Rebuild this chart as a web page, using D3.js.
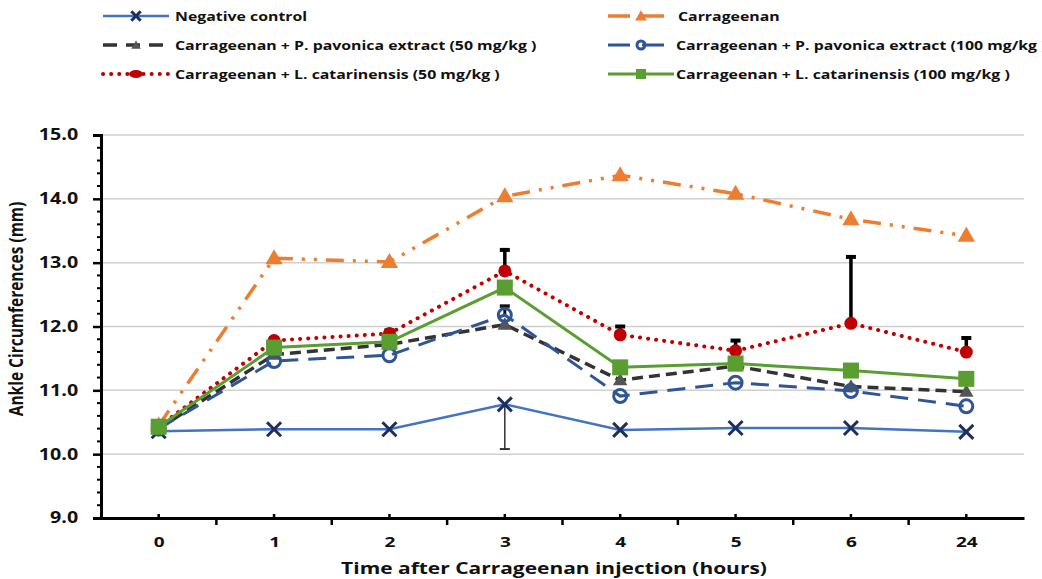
<!DOCTYPE html>
<html>
<head>
<meta charset="utf-8">
<script src="https://cdn.jsdelivr.net/npm/d3@7"></script>
<style>
  body { margin: 0; background: #fff; }
  text { font-family: "Open Sans", "Liberation Sans", sans-serif; font-weight: bold; }
</style>
</head>
<body>
<div id="chart"></div>
<script>
// data
var hours = ["0", "1", "2", "3", "4", "5", "6", "24"];
var yTicks = [9, 10, 11, 12, 13, 14, 15];

var negControl = [10.36, 10.39, 10.39, 10.78, 10.38, 10.41, 10.41, 10.35];
var carrageenan = [10.45, 13.07, 13.01, 14.04, 14.37, 14.08, 13.68, 13.42];
var pav50 = [10.40, 11.56, 11.72, 12.03, 11.16, 11.38, 11.06, 10.98];
var pav100 = [10.40, 11.46, 11.55, 12.18, 10.91, 11.12, 10.99, 10.75];
var lcat50 = [10.43, 11.78, 11.89, 12.87, 11.87, 11.62, 12.05, 11.60];
var lcat100 = [10.43, 11.67, 11.76, 12.61, 11.36, 11.42, 11.31, 11.18];

// error bars (only the visible half)
var negErrDown = [0, 0, 0, 0.70, 0, 0, 0, 0];
var pav100ErrUp = [0, 0, 0, 0.14, 0, 0, 0, 0];
var lcat50ErrUp = [0, 0.04, 0.05, 0.33, 0.13, 0.16, 1.04, 0.22];

var seriesNames = [
  "Negative control",
  "Carrageenan",
  "Carrageenan + P. pavonica extract (50 mg/kg )",
  "Carrageenan + P. pavonica extract (100 mg/kg )",
  "Carrageenan + L. catarinensis (50 mg/kg )",
  "Carrageenan + L. catarinensis (100 mg/kg )"
];

var svgWidth = 1042;
var svgHeight = 579;
var stretch = 1.27; // the original text is wide

var svg = d3.select("#chart")
  .append("svg")
  .attr("width", svgWidth)
  .attr("height", svgHeight);

var xScale = d3.scalePoint()
  .domain(hours)
  .range([101, 1024])
  .padding(0.5);

var yScale = d3.scaleLinear()
  .domain([9, 15])
  .range([518, 135]);

// gridlines
svg.append("g")
  .selectAll("line")
  .data(yTicks.slice(1))
  .enter()
  .append("line")
  .attr("x1", 101)
  .attr("x2", 1024)
  .attr("y1", d => yScale(d))
  .attr("y2", d => yScale(d))
  .attr("stroke", "#d0d0d0")
  .attr("stroke-width", 1.5);

// y axis with minor ticks
var leftAxis = d3.axisLeft(yScale)
  .tickValues(yTicks)
  .tickFormat(d3.format(".1f"))
  .tickSize(8)
  .tickPadding(10);

var yAxisG = svg.append("g")
  .attr("transform", "translate(101,0)")
  .call(leftAxis);
yAxisG.select(".domain").attr("stroke", "#000").attr("stroke-width", 3);
yAxisG.selectAll(".tick line").attr("stroke", "#000").attr("stroke-width", 2.5);
yAxisG.selectAll(".tick text")
  .attr("font-size", 15.5)
  .attr("fill", "#111")
  .attr("transform", `scale(${stretch},1)`);

var minorY = d3.range(9, 15.001, 0.2).filter(d => Math.abs(d - Math.round(d)) > 0.01);
svg.append("g")
  .selectAll("line")
  .data(minorY)
  .enter()
  .append("line")
  .attr("x1", 97)
  .attr("x2", 102)
  .attr("y1", d => yScale(d))
  .attr("y2", d => yScale(d))
  .attr("stroke", "#000")
  .attr("stroke-width", 2);

// x axis
var bottomAxis = d3.axisBottom(xScale)
  .tickSize(0)
  .tickPadding(18);

var xAxisG = svg.append("g")
  .attr("transform", "translate(0,518)")
  .call(bottomAxis);
xAxisG.select(".domain").attr("stroke", "#000").attr("stroke-width", 3);
xAxisG.selectAll(".tick text")
  .attr("font-size", 15)
  .attr("fill", "#111")
  .attr("transform", `scale(${stretch},1)`);

var step = xScale.step();
var boundaries = d3.range(hours.length + 1).map(i => 101 + i * step);
svg.append("g")
  .selectAll("line")
  .data(boundaries.slice(1, -1))
  .enter()
  .append("line")
  .attr("x1", d => d)
  .attr("x2", d => d)
  .attr("y1", 518)
  .attr("y2", 525)
  .attr("stroke", "#000")
  .attr("stroke-width", 2.5);

svg.append("g")
  .selectAll("line")
  .data(hours)
  .enter()
  .append("line")
  .attr("x1", d => xScale(d))
  .attr("x2", d => xScale(d))
  .attr("y1", 514)
  .attr("y2", 518)
  .attr("stroke", "#000")
  .attr("stroke-width", 2.5);

// axis titles
svg.append("text")
  .attr("transform", `translate(554,574) scale(${stretch},1)`)
  .attr("text-anchor", "middle")
  .attr("font-size", 16.5)
  .attr("fill", "#111")
  .text("Time after Carrageenan  injection (hours)");

svg.append("text")
  .attr("transform", `translate(23,309) rotate(-90) scale(1,${stretch})`)
  .attr("text-anchor", "middle")
  .attr("font-size", 15.5)
  .attr("fill", "#111")
  .text("Ankle Circumferences (mm)");

// marker drawing
var triangle = d3.symbol().type(d3.symbolTriangle);
var cross = d3.symbol().type(d3.symbolX);

function drawMarker(g, type, x, y, legend) {
  if (type === "x") {
    g.append("path")
      .attr("d", cross.size(legend ? 60 : 130)())
      .attr("transform", `translate(${x},${y})`)
      .attr("fill", "none")
      .attr("stroke", "#1f2f5c")
      .attr("stroke-width", 3);
  } else if (type === "tri") {
    g.append("path")
      .attr("d", triangle.size(legend ? 60 : 130)())
      .attr("transform", `translate(${x},${y + 1})`)
      .attr("fill", "#ed7d31");
  } else if (type === "triGray") {
    g.append("path")
      .attr("d", triangle.size(legend ? 40 : 90)())
      .attr("transform", `translate(${x},${y + 1})`)
      .attr("fill", "#555");
  } else if (type === "openCircle") {
    g.append("circle")
      .attr("cx", x).attr("cy", y).attr("r", legend ? 4 : 6.5)
      .attr("fill", "none")
      .attr("stroke", "#2f5597")
      .attr("stroke-width", 3);
  } else if (type === "dot") {
    g.append("ellipse")
      .attr("cx", x).attr("cy", y)
      .attr("rx", legend ? 7 : 6.5).attr("ry", legend ? 4 : 6.5)
      .attr("fill", "#c00000");
  } else if (type === "square") {
    var s = legend ? 10 : 16;
    g.append("rect")
      .attr("x", x - s / 2).attr("y", y - s / 2)
      .attr("width", s).attr("height", s)
      .attr("fill", "#5a9e32");
  }
}

var series = [
  { name: seriesNames[0], values: negControl, color: "#4472c4", width: 2.5, dash: null, cap: "butt", marker: "x" },
  { name: seriesNames[1], values: carrageenan, color: "#ed7d31", width: 3.5, dash: "18,9,3,9,3,9", cap: "butt", marker: "tri" },
  { name: seriesNames[2], values: pav50, color: "#333333", width: 3.5, dash: "11,6", cap: "butt", marker: "triGray" },
  { name: seriesNames[3], values: pav100, color: "#2f5597", width: 3, dash: "18,10", cap: "butt", marker: "openCircle" },
  { name: seriesNames[4], values: lcat50, color: "#c00000", width: 4, dash: "0.1,8", cap: "round", marker: "dot" },
  { name: seriesNames[5], values: lcat100, color: "#5a9e32", width: 3, dash: null, cap: "butt", marker: "square" }
];

var line = d3.line()
  .x((d, i) => xScale(hours[i]))
  .y(d => yScale(d));

function errorBars(values, errs, dir, color, width) {
  var g = svg.append("g");
  values.forEach(function(v, i) {
    if (!errs[i]) return;
    var x = xScale(hours[i]);
    var end = yScale(v + dir * errs[i]);
    g.append("line")
      .attr("x1", x).attr("x2", x)
      .attr("y1", yScale(v)).attr("y2", end)
      .attr("stroke", color).attr("stroke-width", width);
    g.append("line")
      .attr("x1", x - 5).attr("x2", x + 5)
      .attr("y1", end).attr("y2", end)
      .attr("stroke", color).attr("stroke-width", width + 0.5);
  });
}

series.forEach(function(s, k) {
  if (k === 0) errorBars(negControl, negErrDown, -1, "#333", 1.5);
  if (k === 3) errorBars(pav100, pav100ErrUp, 1, "#111", 3);
  if (k === 4) errorBars(lcat50, lcat50ErrUp, 1, "#000", 3.5);

  svg.append("path")
    .datum(s.values)
    .attr("d", line)
    .attr("fill", "none")
    .attr("stroke", s.color)
    .attr("stroke-width", s.width)
    .attr("stroke-linecap", s.cap)
    .attr("stroke-dasharray", s.dash);

  var mg = svg.append("g");
  s.values.forEach(function(v, i) {
    drawMarker(mg, s.marker, xScale(hours[i]), yScale(v), false);
  });
});

// legend (two columns, three rows)
var legendRows = [16, 45, 74];
var legendCols = [{ x: 103, tx: 175 }, { x: 608, tx: 676 }];
var legendOrder = [0, 1, 2, 3, 4, 5];

legendOrder.forEach(function(idx, j) {
  var s = series[idx];
  var col = legendCols[j % 2];
  var y = legendRows[Math.floor(j / 2)];
  var lg = svg.append("g");
  lg.append("line")
    .attr("x1", col.x).attr("x2", col.x + 66)
    .attr("y1", y).attr("y2", y)
    .attr("stroke", s.color)
    .attr("stroke-width", s.width)
    .attr("stroke-linecap", s.cap)
    .attr("stroke-dasharray", s.dash ? (idx === 4 ? "0.1,8" : (idx === 2 ? "14,9" : "22,12")) : null);
  drawMarker(lg, s.marker, col.x + 33, y, true);
  lg.append("text")
    .attr("transform", `translate(${idx === 1 ? col.tx + 2 : col.tx},${y + 4.5}) scale(${stretch},1)`)
    .attr("font-size", 12.5)
    .attr("fill", "#111")
    .text(s.name);
});
</script>
</body>
</html>
